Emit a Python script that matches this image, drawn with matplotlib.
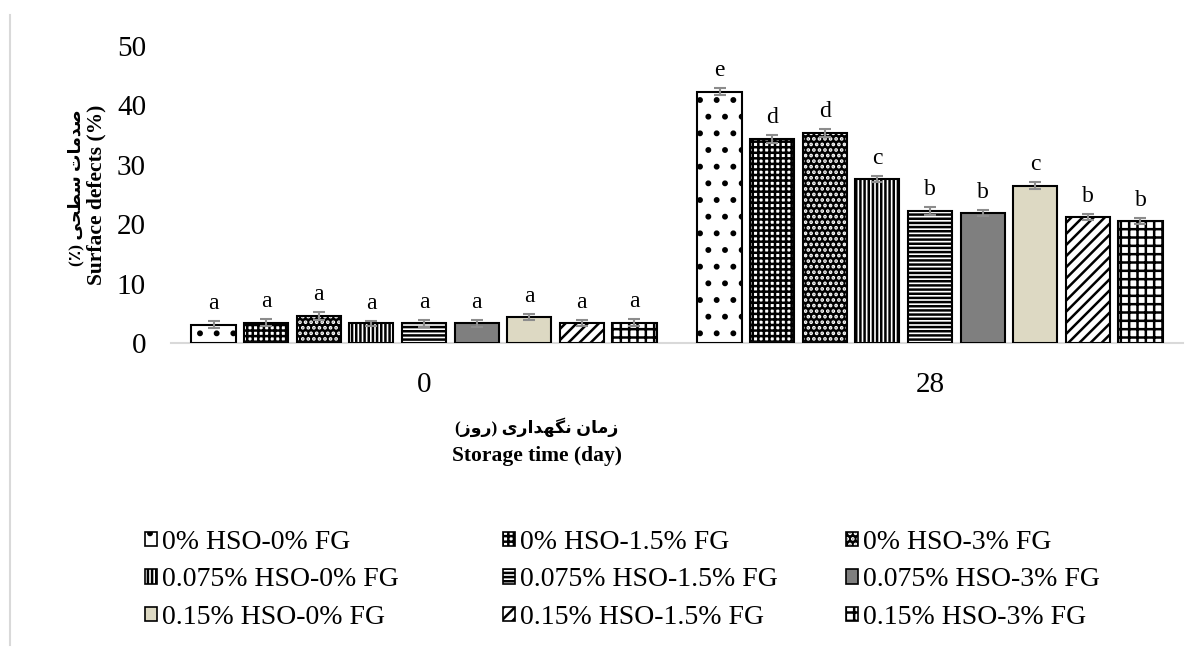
import matplotlib
matplotlib.use('Agg')
import matplotlib.pyplot as plt
from matplotlib.patches import Patch
from matplotlib.lines import Line2D
import numpy as np

# data
dias = ['0', '28']
tratamientos = ['0% HSO-0% FG', '0% HSO-1.5% FG', '0% HSO-3% FG',
                '0.075% HSO-0% FG', '0.075% HSO-1.5% FG', '0.075% HSO-3% FG',
                '0.15% HSO-0% FG', '0.15% HSO-1.5% FG', '0.15% HSO-3% FG']
dia0 = [3.1, 3.4, 4.5, 3.3, 3.3, 3.3, 4.4, 3.3, 3.4]
dia28 = [42.3, 34.3, 35.3, 27.6, 22.2, 21.9, 26.5, 21.2, 20.5]
err0 = [0.55, 0.6, 0.7, 0.45, 0.6, 0.6, 0.55, 0.5, 0.6]
err28 = [0.6, 0.65, 0.7, 0.45, 0.65, 0.55, 0.6, 0.5, 0.5]
letras0 = ['a'] * 9
letras28 = ['e', 'd', 'd', 'c', 'b', 'b', 'c', 'b', 'b']

# estilo de cada serie: fondo, color de trama, trama
fondos = ['white', 'white', 'black', 'white', 'white', '#7f7f7f', '#ddd9c3', 'white', 'white']
tramas_color = ['black', 'black', 'white', 'black', 'black', '#7f7f7f', '#ddd9c3', 'black', 'black']
tramas = ['.', '+++', '...', '||||', '----', '', '', '///', '++']

# texto persa (formas de presentacion, orden visual)
formas = {
    '\u0635': '\uFEB9\uFEBA\uFEBB\uFEBC', '\u062F': '\uFEA9\uFEAA',
    '\u0645': '\uFEE1\uFEE2\uFEE3\uFEE4', '\u0627': '\uFE8D\uFE8E',
    '\u062A': '\uFE95\uFE96\uFE97\uFE98', '\u0633': '\uFEB1\uFEB2\uFEB3\uFEB4',
    '\u0637': '\uFEC1\uFEC2\uFEC3\uFEC4', '\u062D': '\uFEA1\uFEA2\uFEA3\uFEA4',
    '\u06CC': '\uFBFC\uFBFD\uFBFE\uFBFF', '\u0632': '\uFEAF\uFEB0',
    '\u0646': '\uFEE5\uFEE6\uFEE7\uFEE8', '\u06AF': '\uFB92\uFB93\uFB94\uFB95',
    '\u0647': '\uFEE9\uFEEA\uFEEB\uFEEC', '\u0631': '\uFEAD\uFEAE',
    '\u0648': '\uFEED\uFEEE',
}
solo_derecha = set('\u062F\u0627\u0632\u0631\u0648')


def persa(s):
    out = []
    for i, ch in enumerate(s):
        if ch not in formas:
            out.append({'(': ')', ')': '('}.get(ch, ch))
            continue
        prev = s[i - 1] if i > 0 else ''
        nxt = s[i + 1] if i + 1 < len(s) else ''
        jp = prev in formas and prev not in solo_derecha
        jn = ch not in solo_derecha and nxt in formas
        k = 3 if (jp and jn) else 1 if jp else 2 if jn else 0
        out.append(formas[ch][k])
    return ''.join(reversed(out))


plt.rcParams['font.family'] = ['Liberation Serif', 'DejaVu Sans']
plt.rcParams['hatch.linewidth'] = 1.8

fig = plt.figure(figsize=(12.01, 6.5), dpi=100)
ax = fig.add_axes([171 / 1201, 1 - 343 / 650, (1183 - 171) / 1201, (343 - 46) / 650])

x = np.arange(len(dias))
paso = 0.104
ancho = 0.087
gris = '#8c8c8c'

handles = []
for i in range(9):
    vals = [dia0[i], dia28[i]]
    errs = [err0[i], err28[i]]
    pos = x + (i - 4) * paso
    ax.bar(pos, vals, ancho, color=fondos[i], edgecolor=tramas_color[i],
           hatch=tramas[i], linewidth=0, zorder=2)
    ax.bar(pos, vals, ancho, facecolor='none', edgecolor='black', linewidth=1.5, zorder=3)
    ax.errorbar(pos, vals, yerr=errs, fmt='none', ecolor=gris, elinewidth=1.5,
                capsize=4, capthick=1.5, zorder=4)
    for p, v, e, l in zip(pos, vals, errs, [letras0[i], letras28[i]]):
        ax.annotate(l, (p, v + e), xytext=(0, 5), textcoords='offset points',
                    ha='center', va='bottom', fontsize=17)
    handles.append((Patch(facecolor=fondos[i], edgecolor=tramas_color[i], hatch=tramas[i], linewidth=0),
                    Patch(facecolor='none', edgecolor='black', linewidth=1.2)))

ax.set_xlim(-0.5, 1.5)
ax.set_ylim(0, 50)
ax.set_yticks([0, 10, 20, 30, 40, 50])
ax.set_xticks(x)
ax.set_xticklabels(dias)
ax.tick_params(axis='both', length=0, labelsize=21)
ax.tick_params(axis='y', pad=18)
ax.tick_params(axis='x', pad=21)
for s in ['top', 'right', 'left']:
    ax.spines[s].set_visible(False)
ax.spines['bottom'].set_color('#d9d9d9')
ax.spines['bottom'].set_linewidth(1.5)

# titulos de ejes
fig.text(96 / 1201, 1 - 195 / 650, 'Surface defects (%)', rotation=90, ha='center', va='center',
         fontsize=15.5, fontweight='bold')
fig.text(76 / 1201, 1 - 188 / 650, persa('\u0635\u062F\u0645\u0627\u062A \u0633\u0637\u062D\u06CC (\u066A)'),
         rotation=90, ha='center', va='center', fontsize=12.5, fontweight='bold')
fig.text(537 / 1201, 1 - 456 / 650, 'Storage time (day)', ha='center', va='center',
         fontsize=15.5, fontweight='bold')
fig.text(537 / 1201, 1 - 427 / 650,
         persa('\u0632\u0645\u0627\u0646 \u0646\u06AF\u0647\u062F\u0627\u0631\u06CC (\u0631\u0648\u0632)'),
         ha='center', va='center', fontsize=12.5, fontweight='bold')

# leyenda en tres columnas
for c, xc in enumerate([145, 503, 846]):
    idx = [c, c + 3, c + 6]
    fig.legend([handles[k] for k in idx], [tratamientos[k] for k in idx],
               loc='upper left', bbox_to_anchor=(xc / 1201, 1 - 530 / 650),
               frameon=False, fontsize=20, handlelength=0.42, handleheight=0.42,
               handletextpad=0.2, labelspacing=0.45, borderpad=0, borderaxespad=0)

fig.add_artist(Line2D([10 / 1201, 10 / 1201], [1 - 645 / 650, 1 - 15 / 650],
                      transform=fig.transFigure, color='#d9d9d9', linewidth=1.5))

fig.savefig('out.png', dpi=100)
